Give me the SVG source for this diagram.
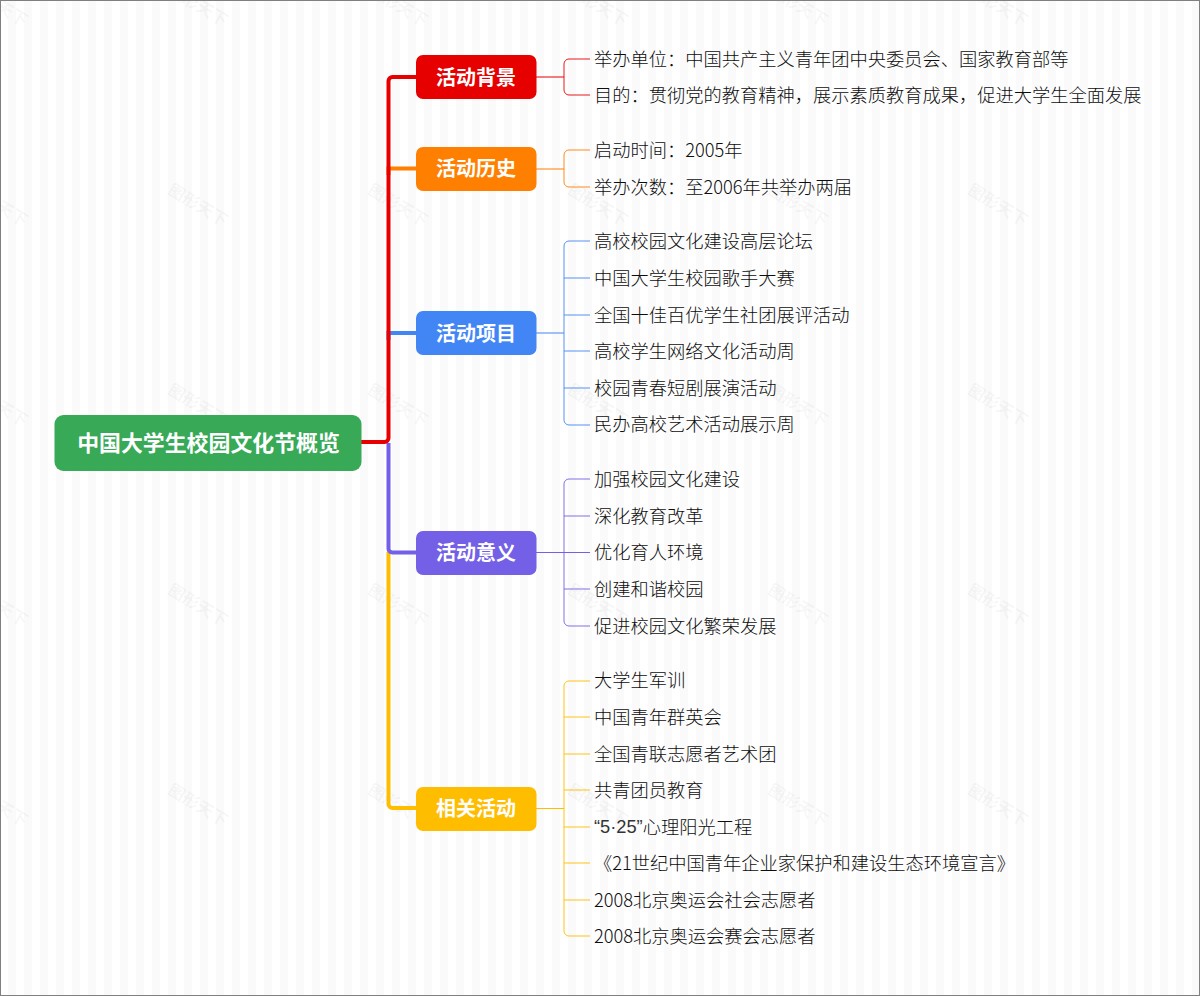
<svg xmlns="http://www.w3.org/2000/svg" width="1200" height="996" viewBox="0 0 1200 996">
<style>
.t{font-family:"Noto Sans CJK SC","Noto Sans",sans-serif;font-size:18.25px;font-weight:300;fill:#0d0d0d;dominant-baseline:central}
.q{font-family:"Liberation Sans","Noto Sans",sans-serif;fill:#333}
.b{font-family:"Noto Sans CJK SC","Noto Sans",sans-serif;font-size:20px;font-weight:700;fill:#fff;text-anchor:middle;dominant-baseline:central}
.w{font-family:"Noto Sans CJK SC",sans-serif;font-size:16.500px;font-weight:700;fill:#000;fill-opacity:.05;text-anchor:middle}
.l{fill:none;stroke-width:1}
.m{fill:none;stroke-width:4}
</style>
<defs>
<pattern id="st" width="16" height="16" patternUnits="userSpaceOnUse"><rect width="16" height="16" fill="#fff"/><rect x="8" width="8" height="16" fill="#fafafa"/></pattern>
<text id="wm" class="w" transform="rotate(31)">图形天下</text>
</defs>
<rect width="1200" height="996" fill="url(#st)"/>
<g id="watermarks">
<use href="#wm" transform="translate(-5 210)"/><use href="#wm" transform="translate(195 210)"/><use href="#wm" transform="translate(395 210)"/><use href="#wm" transform="translate(595 210)"/><use href="#wm" transform="translate(795 210)"/><use href="#wm" transform="translate(995 210)"/>
<use href="#wm" transform="translate(-5 10)"/><use href="#wm" transform="translate(195 10)"/><use href="#wm" transform="translate(395 10)"/><use href="#wm" transform="translate(595 10)"/><use href="#wm" transform="translate(795 10)"/><use href="#wm" transform="translate(995 10)"/>
<use href="#wm" transform="translate(-5 410)"/><use href="#wm" transform="translate(195 410)"/><use href="#wm" transform="translate(395 410)"/><use href="#wm" transform="translate(595 410)"/><use href="#wm" transform="translate(795 410)"/><use href="#wm" transform="translate(995 410)"/>
<use href="#wm" transform="translate(-5 610)"/><use href="#wm" transform="translate(195 610)"/><use href="#wm" transform="translate(395 610)"/><use href="#wm" transform="translate(595 610)"/><use href="#wm" transform="translate(795 610)"/><use href="#wm" transform="translate(995 610)"/>
<use href="#wm" transform="translate(-5 810)"/><use href="#wm" transform="translate(195 810)"/><use href="#wm" transform="translate(395 810)"/><use href="#wm" transform="translate(595 810)"/><use href="#wm" transform="translate(795 810)"/><use href="#wm" transform="translate(995 810)"/>
</g>
<g id="connectors">
<path class="m" stroke="#ffbd00" d="M388.500 552V804a4 4 0 0 0 4 4H416"/>
<path class="m" stroke="#7360e6" d="M388.500 443V548a4 4 0 0 0 4 4.500H416"/>
<path class="m" stroke="#4285f4" d="M388.500 340V333H416"/>
<path class="m" stroke="#ff7f00" d="M388.500 175V168.500H416"/>
<path class="m" stroke="#e60000" d="M361 442H384.500a4 4 0 0 0 4-4V81a4 4 0 0 1 4-4H416"/>
<g class="l" stroke="#e60000"><path d="M536 77H564"/><path stroke-opacity=".9" d="M590 59H569a5 5 0 0 0-5 5V90a5 5 0 0 0 5 5H590"/></g>
<g class="l" stroke="#ff7f00"><path d="M536 169H564"/><path stroke-opacity=".9" d="M590 150H569a5 5 0 0 0-5 5V182a5 5 0 0 0 5 5H590"/></g>
<g class="l" stroke="#4285f4"><path d="M536 333H564"/><path stroke-opacity=".9" d="M590 241H569a5 5 0 0 0-5 5V420a5 5 0 0 0 5 5H590M564 278H590M564 315H590M564 351H590M564 388H590"/></g>
<g class="l" stroke="#7360e6"><path d="M536 552.500H590"/><path stroke-opacity=".9" d="M590 479H569a5 5 0 0 0-5 5V621a5 5 0 0 0 5 5H590M564 516H590M564 589H590"/></g>
<g class="l" stroke="#ffbd00"><path d="M536 808.500H564"/><path stroke-opacity=".9" d="M590 681H569a5 5 0 0 0-5 5V931a5 5 0 0 0 5 5H590M564 717H590M564 754H590M564 790H590M564 827H590M564 863H590M564 900H590"/></g>
</g>
<g id="root"><rect x="54.500" y="415" width="307" height="56" rx="9" fill="#37a957"/><text class="b" style="font-size:21.900px" x="208.500" y="441.500">中国大学生校园文化节概览</text></g>
<g id="n1"><rect x="416" y="55" width="120.500" height="44" rx="7" fill="#e60000"/><text class="b" x="476" y="76">活动背景</text></g>
<g id="n2"><rect x="416" y="147" width="120.500" height="44" rx="7" fill="#ff7f00"/><text class="b" x="476" y="167.500">活动历史</text></g>
<g id="n3"><rect x="416" y="311" width="120.500" height="44" rx="7" fill="#4285f4"/><text class="b" x="476" y="332">活动项目</text></g>
<g id="n4"><rect x="416" y="531" width="120.500" height="44" rx="7" fill="#7360e6"/><text class="b" x="476" y="551.500">活动意义</text></g>
<g id="n5"><rect x="416" y="787" width="120.500" height="44" rx="7" fill="#ffbd00"/><text class="b" x="476" y="807.500">相关活动</text></g>
<g id="leaves">
<text class="t" x="594" y="58">举办单位：中国共产主义青年团中央委员会、国家教育部等</text>
<text class="t" x="594" y="94">目的：贯彻党的教育精神，展示素质教育成果，促进大学生全面发展</text>
<text class="t" x="594" y="149">启动时间：2005年</text>
<text class="t" x="594" y="186">举办次数：至2006年共举办两届</text>
<text class="t" x="594" y="240">高校校园文化建设高层论坛</text>
<text class="t" x="594" y="277">中国大学生校园歌手大赛</text>
<text class="t" x="594" y="314">全国十佳百优学生社团展评活动</text>
<text class="t" x="594" y="350">高校学生网络文化活动周</text>
<text class="t" x="594" y="387">校园青春短剧展演活动</text>
<text class="t" x="594" y="423">民办高校艺术活动展示周</text>
<text class="t" x="594" y="478">加强校园文化建设</text>
<text class="t" x="594" y="515">深化教育改革</text>
<text class="t" x="594" y="551">优化育人环境</text>
<text class="t" x="594" y="588">创建和谐校园</text>
<text class="t" x="594" y="625">促进校园文化繁荣发展</text>
<text class="t" x="594" y="679">大学生军训</text>
<text class="t" x="594" y="716">中国青年群英会</text>
<text class="t" x="594" y="753">全国青联志愿者艺术团</text>
<text class="t" x="594" y="789">共青团员教育</text>
<text class="t" x="594" y="826"><tspan class="q">“5·25”</tspan>心理阳光工程</text>
<text class="t" x="594" y="862">《21世纪中国青年企业家保护和建设生态环境宣言》</text>
<text class="t" x="594" y="899">2008北京奥运会社会志愿者</text>
<text class="t" x="594" y="935">2008北京奥运会赛会志愿者</text>
</g>
<rect id="frame" x=".5" y=".5" width="1199" height="995" fill="none" stroke="#808080"/>
</svg>
